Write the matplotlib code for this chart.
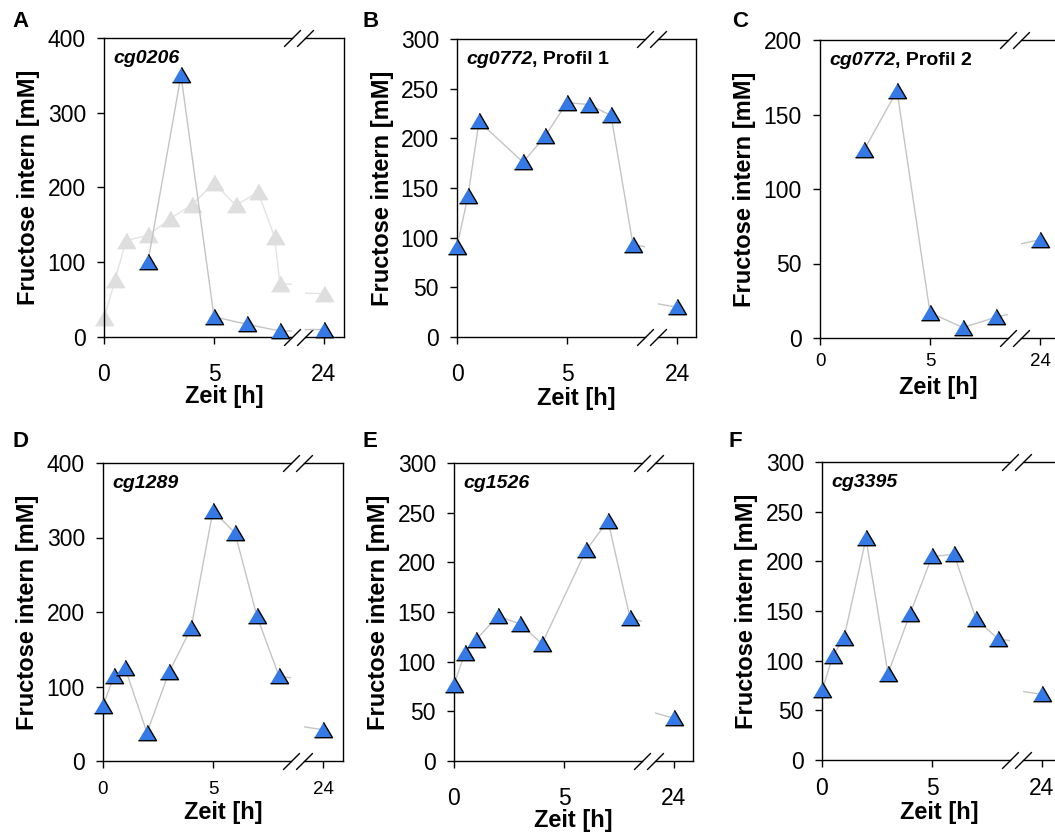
import numpy as np
import matplotlib
matplotlib.use("Agg")
from matplotlib import pyplot as plt

plt.rcParams["font.family"] = ["Liberation Sans", "DejaVu Sans"]

# Werte (Zeit [h], Fructose intern [mM])
t_a = [2, 3.5, 5, 6.5, 8, 24]
y_a = [101, 350, 27, 17, 8, 10]
t_a_ref = [0, 0.5, 1, 2, 3, 4, 5, 6, 7, 7.75, 8, 24]
y_a_ref = [25, 76, 129, 136, 158, 177, 206, 176, 194, 134, 71, 58]
t_b = [0, 0.5, 1, 3, 4, 5, 6, 7, 8, 24]
y_b = [91, 142, 217, 176, 202, 236, 234, 223, 93, 30]
t_c = [2, 3.5, 5, 6.5, 8, 24]
y_c = [126, 166, 17, 7, 14, 66]
t_d = [0, 0.5, 1, 2, 3, 4, 5, 6, 7, 8, 24]
y_d = [74, 114, 125, 38, 119, 178, 336, 306, 194, 114, 42]
t_e = [0, 0.5, 1, 2, 3, 4, 6, 7, 8, 24]
y_e = [77, 109, 122, 146, 138, 118, 212, 242, 144, 43]
t_f = [0, 0.5, 1, 2, 3, 4, 5, 6, 7, 8, 24]
y_f = [70, 105, 123, 223, 87, 147, 205, 207, 142, 122, 66]

letters = ["A", "B", "C", "D", "E", "F"]
genes = ["cg0206", "cg0772", "cg0772", "cg1289", "cg1526", "cg3395"]
suffix = ["", ", Profil 1", ", Profil 2", "", "", ""]
series = [(t_a, y_a), (t_b, y_b), (t_c, y_c), (t_d, y_d), (t_e, y_e), (t_f, y_f)]
ymax = [400, 300, 200, 400, 300, 300]
ystep = [100, 50, 50, 100, 50, 50]

W, H = 1055, 832
PX = 22.0          # Pixel pro Stunde
BRK_L = 8.55       # Ende des linken Teils
BRK_R = 23.15      # Anfang des rechten Teils

# Layout in Pixeln: x0, rechter Rand, oben, unten, Buchstabe x/y, xtick-Größe, xtick-Abstand, xlabel y
layout = [
    (104, 344, 38, 337, 12, 11, 16.5, 19, 397),
    (457, 696, 39, 337, 363, 11, 16.5, 19, 398),
    (820, 1056, 40, 338, 732, 11, 13.5, 8, 387),
    (103, 343, 463, 761, 12, 431, 13.5, 13, 813),
    (454, 693, 463, 761, 363, 431, 16.5, 19, 820),
    (822, 1056, 462, 760, 728, 431, 16.5, 10, 812),
]

BLUE = "#3479e6"
TRI = [(-1, -0.8), (1, -0.8), (0, 0.9)]
brk = dict(marker=[(-1, -1), (1, 1)], markersize=12, linestyle="none",
           color="k", mec="k", mew=1, clip_on=False)

fig = plt.figure(figsize=(W / 100, H / 100), dpi=100)


def draw(ax_l, ax_r, t, y, lc, fc, ec, z):
    t = np.array(t)
    y = np.array(y)
    for ax in (ax_l, ax_r):
        ax.plot(t, y, color=lc, lw=1, zorder=z)
    m = t <= BRK_L
    ax_l.plot(t[m], y[m], ls="none", marker=TRI, ms=13, mfc=fc, mec=ec,
              mew=1, clip_on=False, zorder=z + 1)
    ax_r.plot(t[~m], y[~m], ls="none", marker=TRI, ms=13, mfc=fc, mec=ec,
              mew=1, clip_on=False, zorder=z + 1)


for i, (x0, right, top, bottom, lx, ly, xts, xpad, xly) in enumerate(layout):
    h = (bottom - top) / H
    ax_l = fig.add_axes([x0 / W, 1 - bottom / H, BRK_L * PX / W, h])
    r0 = x0 + (BRK_R - 14) * PX
    ax_r = fig.add_axes([r0 / W, 1 - bottom / H, (right - r0) / W, h])

    ax_l.set_xlim(0, BRK_L)
    ax_r.set_xlim(BRK_R, BRK_R + (right - r0) / PX)
    for ax in (ax_l, ax_r):
        ax.set_ylim(0, ymax[i])
        for s in ax.spines.values():
            s.set_linewidth(1)
        ax.tick_params(direction="out", length=5, width=1, labelsize=xts,
                       pad=xpad * 0.72)
    ax_l.spines["right"].set_visible(False)
    ax_r.spines["left"].set_visible(False)
    ax_l.set_xticks([0, 5])
    ax_r.set_xticks([24])
    ax_l.set_yticks(np.arange(0, ymax[i] + 1, ystep[i]))
    ax_l.tick_params(axis="y", labelsize=16.5, pad=8)
    ax_r.set_yticks([])

    if i == 0:
        draw(ax_l, ax_r, t_a_ref, y_a_ref, "#e3e3e3", "#dedede", "#dedede", 1)
    t, y = series[i]
    draw(ax_l, ax_r, t, y, "#c4c4c4", BLUE, "black", 3)

    # Bruchzeichen
    ax_l.plot([1, 1], [0, 1], transform=ax_l.transAxes, **brk)
    ax_r.plot([0, 0], [0, 1], transform=ax_r.transAxes, **brk)

    # Beschriftung im Panel
    txt = ax_l.text(9 / (BRK_L * PX), 1 - 25 / (bottom - top), genes[i],
                    transform=ax_l.transAxes, fontsize=14, fontweight="bold",
                    fontstyle="italic", va="baseline", ha="left")
    if suffix[i]:
        ax_l.annotate(suffix[i], xy=(1, 0), xycoords=txt, fontsize=14,
                      fontweight="bold", va="bottom", ha="left")

    fig.text((x0 - 75) / W, 1 - (top + bottom) / 2 / H, "Fructose intern [mM]",
             rotation=90, ha="center", va="center", fontsize=17,
             fontweight="bold")
    fig.text((x0 + min(right, 1060)) / 2 / W, 1 - xly / H, "Zeit [h]",
             ha="center", va="center", fontsize=17, fontweight="bold")
    fig.text(lx / W, 1 - ly / H, letters[i], ha="left", va="top",
             fontsize=16, fontweight="bold")

fig.savefig("out.png", dpi=100)
